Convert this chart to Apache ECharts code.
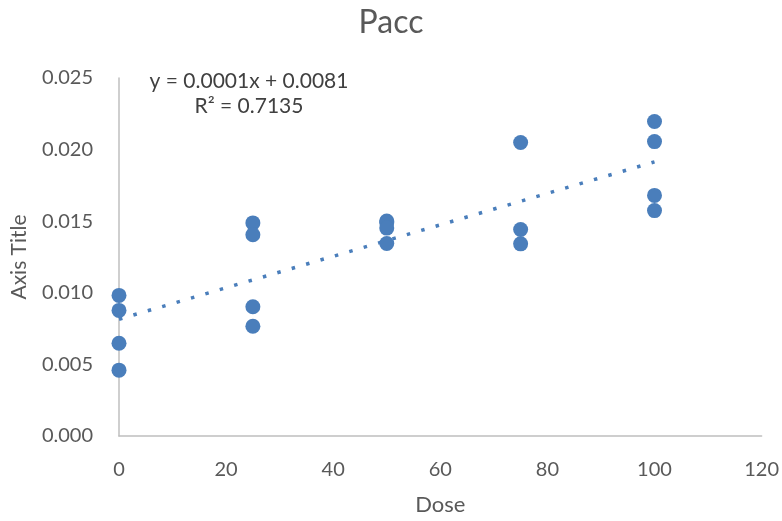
<!DOCTYPE html>
<html>
<head>
<meta charset="utf-8">
<script src="https://cdn.jsdelivr.net/npm/echarts@6/dist/echarts.min.js"></script>
<style>
  html, body { margin: 0; padding: 0; background: #ffffff; }
  #chart { width: 782px; height: 521px; }
</style>
</head>
<body>
<div id="chart"></div>
<script>
// Pacc response by dose
const doses = [0, 0, 0, 0, 25, 25, 25, 25, 50, 50, 50, 50, 75, 75, 75, 100, 100, 100, 100];
const pacc = [0.00982, 0.00877, 0.00648, 0.00460,
              0.01488, 0.01405, 0.00903, 0.00766,
              0.01501, 0.01490, 0.01452, 0.01344,
              0.02050, 0.01442, 0.01342,
              0.02196, 0.02056, 0.01680, 0.01574];
const xTicks = [0, 20, 40, 60, 80, 100, 120];
const yTicks = [0, 0.005, 0.010, 0.015, 0.020, 0.025];
const equationText = 'y = 0.0001x + 0.0081';
const r2Text = 'R² = 0.7135';

// least-squares linear fit for the trendline
const n = doses.length;
const mx = doses.reduce((a, b) => a + b, 0) / n;
const my = pacc.reduce((a, b) => a + b, 0) / n;
let sxy = 0, sxx = 0;
for (let i = 0; i < n; i++) {
  sxy += (doses[i] - mx) * (pacc[i] - my);
  sxx += (doses[i] - mx) * (doses[i] - mx);
}
const slope = sxy / sxx;
const intercept = my - slope * mx;
const xMinData = Math.min(...doses), xMaxData = Math.max(...doses);
const trend = [[xMinData, intercept + slope * xMinData], [xMaxData, intercept + slope * xMaxData]];

const blue = '#4a7ebb';
const textGray = '#595959';
const font = 'Lato, "Open Sans", sans-serif';

const chart = echarts.init(document.getElementById('chart'));
chart.setOption({
  animation: false,
  backgroundColor: '#ffffff',
  title: {
    text: 'Pacc',
    left: 'center',
    top: 2,
    textStyle: { fontFamily: font, fontSize: 32, fontWeight: 'normal', color: textGray }
  },
  grid: { left: 119, right: 19, top: 78, bottom: 84 },
  xAxis: {
    type: 'value',
    min: xTicks[0],
    max: xTicks[xTicks.length - 1],
    interval: xTicks[1] - xTicks[0],
    name: 'Dose',
    nameLocation: 'middle',
    nameGap: 58,
    nameTextStyle: { fontFamily: font, fontSize: 22, color: textGray },
    axisLine: { show: true, lineStyle: { color: '#bfbfbf', width: 1.5 } },
    axisTick: { show: false },
    splitLine: { show: false },
    axisLabel: { margin: 24, fontFamily: font, fontSize: 20, color: textGray }
  },
  yAxis: {
    type: 'value',
    min: yTicks[0],
    max: yTicks[yTicks.length - 1],
    interval: yTicks[1] - yTicks[0],
    name: 'Axis Title',
    nameLocation: 'middle',
    nameGap: 89,
    nameTextStyle: { fontFamily: font, fontSize: 21, color: textGray },
    axisLine: { show: true, lineStyle: { color: '#bfbfbf', width: 1.5 } },
    axisTick: { show: false },
    splitLine: { show: false },
    axisLabel: {
      margin: 26, fontFamily: font, fontSize: 20, color: textGray,
      formatter: v => v.toFixed(3)
    }
  },
  series: [
    {
      type: 'line',
      data: trend,
      showSymbol: false,
      symbol: 'none',
      lineStyle: { color: blue, width: 3.5, type: [3.5, 11.5], cap: 'butt' },
      z: 2,
      silent: true
    },
    {
      type: 'scatter',
      data: doses.map((d, i) => [d, pacc[i]]),
      symbol: 'circle',
      symbolSize: 15,
      itemStyle: { color: blue, opacity: 1 },
      z: 3
    }
  ],
  graphic: [
    {
      type: 'text',
      x: 249, y: 71,
      style: { text: equationText, fontFamily: font, fontSize: 21, fill: '#404040', align: 'center' }
    },
    {
      type: 'text',
      x: 249, y: 96,
      style: { text: r2Text, fontFamily: font, fontSize: 21, fill: '#404040', align: 'center' }
    }
  ]
});
</script>
</body>
</html>
